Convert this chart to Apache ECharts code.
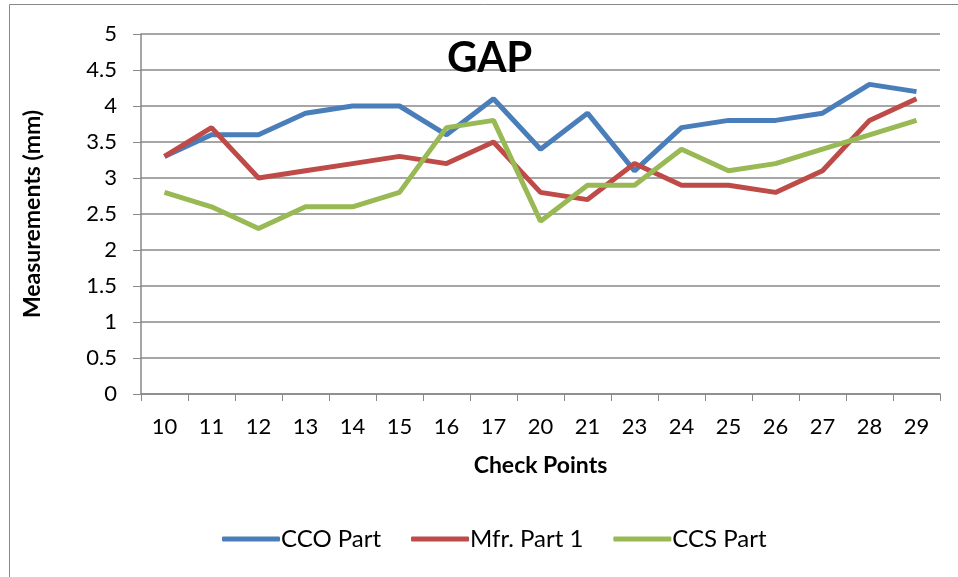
<!DOCTYPE html>
<html>
<head>
<meta charset="utf-8">
<script src="https://cdn.jsdelivr.net/npm/echarts@6/dist/echarts.min.js"></script>
<style>
  html, body { margin: 0; padding: 0; background: #fff; }
  #chart { width: 958px; height: 577px; }
</style>
</head>
<body>
<div id="chart"></div>
<script>
// check points on the x axis
const checkPoints = ['10', '11', '12', '13', '14', '15', '16', '17', '20', '21', '23', '24', '25', '26', '27', '28', '29'];

// gap measurements (mm)
const ccoPart = [3.3, 3.6, 3.6, 3.9, 4.0, 4.0, 3.6, 4.1, 3.4, 3.9, 3.1, 3.7, 3.8, 3.8, 3.9, 4.3, 4.2];
const mfrPart1 = [3.3, 3.7, 3.0, 3.1, 3.2, 3.3, 3.2, 3.5, 2.8, 2.7, 3.2, 2.9, 2.9, 2.8, 3.1, 3.8, 4.1];
const ccsPart = [2.8, 2.6, 2.3, 2.6, 2.6, 2.8, 3.7, 3.8, 2.4, 2.9, 2.9, 3.4, 3.1, 3.2, 3.4, 3.6, 3.8];

const seriesNames = ['CCO Part', 'Mfr. Part 1', 'CCS Part'];
const colors = ['#4A7EBB', '#BE4B48', '#98B954'];

const FONT = 'Lato';
const GRAY = '#888888';

let chart = echarts.init(document.getElementById('chart'));

function makeLine(name, data, color) {
    return {
        name: name,
        type: 'line',
        data: data,
        symbol: 'none',
        lineStyle: { width: 5, color: color },
        itemStyle: { color: color }
    };
}

const option = {
    animation: false,
    textStyle: { fontFamily: FONT },
    graphic: [{
        type: 'rect',
        shape: { x: 9.5, y: 4.5, width: 980, height: 620 },
        style: { fill: 'none', stroke: GRAY, lineWidth: 1 },
        silent: true
    }],
    title: {
        text: 'GAP',
        left: 442,
        top: 32,
        textStyle: { fontFamily: FONT, fontSize: 42, fontWeight: 'bold', color: '#000' }
    },
    grid: { left: 141, right: 18, top: 34, bottom: 183 },
    legend: {
        data: seriesNames,
        bottom: 21,
        left: 217,
        itemWidth: 58,
        itemHeight: 5,
        itemGap: 30,
        icon: 'roundRect',
        textStyle: { fontFamily: FONT, fontSize: 24, color: '#000', padding: [0, 0, 0, -4] }
    },
    xAxis: {
        type: 'category',
        data: checkPoints,
        boundaryGap: true,
        name: 'Check Points',
        nameLocation: 'middle',
        nameGap: 60,
        nameTextStyle: { fontFamily: FONT, fontSize: 23, fontWeight: 'bold', color: '#000' },
        axisLine: { lineStyle: { color: GRAY, width: 1.5 } },
        axisTick: { show: true, interval: 0, length: 7, lineStyle: { color: GRAY } },
        axisLabel: { margin: 22, fontSize: 22, color: '#000', fontFamily: FONT, interval: 0 }
    },
    yAxis: {
        type: 'value',
        min: 0,
        max: 5,
        interval: 0.5,
        name: 'Measurements (mm)',
        nameLocation: 'middle',
        nameRotate: 90,
        nameGap: 97,
        nameTextStyle: { fontFamily: FONT, fontSize: 23, fontWeight: 'bold', color: '#000' },
        axisLine: { show: true, lineStyle: { color: GRAY, width: 1.5 } },
        axisTick: { show: true, length: 8, lineStyle: { color: GRAY } },
        axisLabel: { margin: 24, fontSize: 22, color: '#000', fontFamily: FONT },
        splitLine: { lineStyle: { color: GRAY, width: 1.5 } }
    },
    series: [
        makeLine(seriesNames[0], ccoPart, colors[0]),
        makeLine(seriesNames[1], mfrPart1, colors[1]),
        makeLine(seriesNames[2], ccsPart, colors[2])
    ]
};

chart.setOption(option);
</script>
</body>
</html>
